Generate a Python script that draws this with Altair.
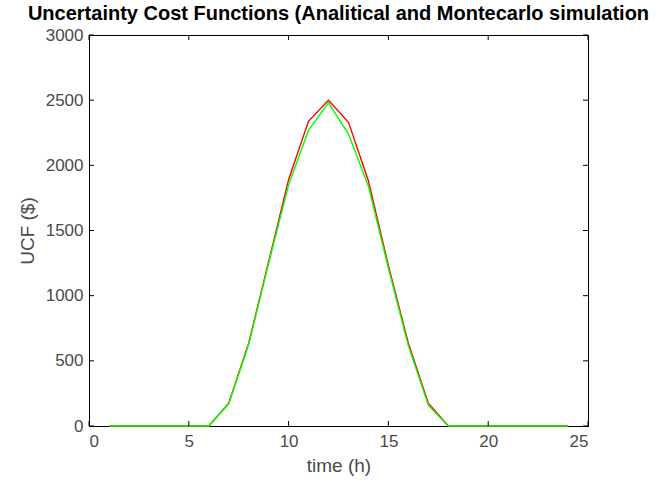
import altair as alt
import pandas as pd

hours = list(range(1, 25))
ucf_analytical = [0, 0, 0, 0, 0, 0, 175, 635, 1260, 1890, 2340, 2500, 2330, 1880, 1230, 635, 175, 0, 0, 0, 0, 0, 0, 0]
ucf_montecarlo = [0, 0, 0, 0, 0, 0, 170, 625, 1250, 1850, 2270, 2480, 2240, 1840, 1210, 615, 160, 0, 0, 0, 0, 0, 0, 0]
x_ticks = [0, 5, 10, 15, 20, 25]
y_ticks = [0, 500, 1000, 1500, 2000, 2500, 3000]

W, H = 499, 391
FONT = "Liberation Sans"
GRAY = "#4a4a4a"

df_red = pd.DataFrame({"time": hours, "ucf": ucf_analytical})
df_green = pd.DataFrame({"time": hours, "ucf": ucf_montecarlo})

xs = alt.Scale(domain=[0, 25], nice=False)
ys = alt.Scale(domain=[0, 3000], nice=False)

common = dict(grid=False, ticks=False, domainColor="black", domainWidth=1,
              labelFont=FONT, titleFont=FONT, labelFontSize=17, titleFontSize=19,
              labelColor=GRAY, titleColor=GRAY, titleFontWeight="normal", format="d")
x_axis = alt.Axis(values=x_ticks, title="time (h)", labelPadding=7, titlePadding=7, **common)
y_axis = alt.Axis(values=y_ticks, title="UCF ($)", labelPadding=6, titlePadding=8, **common)

red = alt.Chart(df_red).mark_line(color="#ff0000", strokeWidth=1.4).encode(
    x=alt.X("time:Q", scale=xs, axis=x_axis),
    y=alt.Y("ucf:Q", scale=ys, axis=y_axis),
)
green = alt.Chart(df_green).mark_line(color="#00ff00", strokeWidth=1.4).encode(
    x=alt.X("time:Q", scale=xs),
    y=alt.Y("ucf:Q", scale=ys),
)

xt = pd.DataFrame({"t": x_ticks})
yt = pd.DataFrame({"v": y_ticks})
xtick_bot = alt.Chart(xt).mark_rule(color="black", strokeWidth=1).encode(
    x=alt.X("t:Q", scale=xs), y=alt.value(H), y2=alt.value(H - 5))
xtick_top = alt.Chart(xt).mark_rule(color="black", strokeWidth=1).encode(
    x=alt.X("t:Q", scale=xs), y=alt.value(0), y2=alt.value(5))
ytick_l = alt.Chart(yt).mark_rule(color="black", strokeWidth=1).encode(
    y=alt.Y("v:Q", scale=ys), x=alt.value(0), x2=alt.value(5))
ytick_r = alt.Chart(yt).mark_rule(color="black", strokeWidth=1).encode(
    y=alt.Y("v:Q", scale=ys), x=alt.value(W), x2=alt.value(W - 5))

chart = alt.layer(red, green, xtick_bot, xtick_top, ytick_l, ytick_r).properties(
    width=W, height=H,
    title=alt.TitleParams("Uncertainty Cost Functions (Analitical and Montecarlo simulation",
                          font=FONT, fontSize=20, fontWeight="bold", color="black",
                          anchor="middle", offset=2),
    autosize=alt.AutoSizeParams(type="none"),
    padding={"left": 89, "top": 35, "right": 80, "bottom": 56},
    background="white",
).configure_view(stroke="black", strokeWidth=1)

chart.save("out.html", embed_options={"renderer": "svg", "actions": False})
